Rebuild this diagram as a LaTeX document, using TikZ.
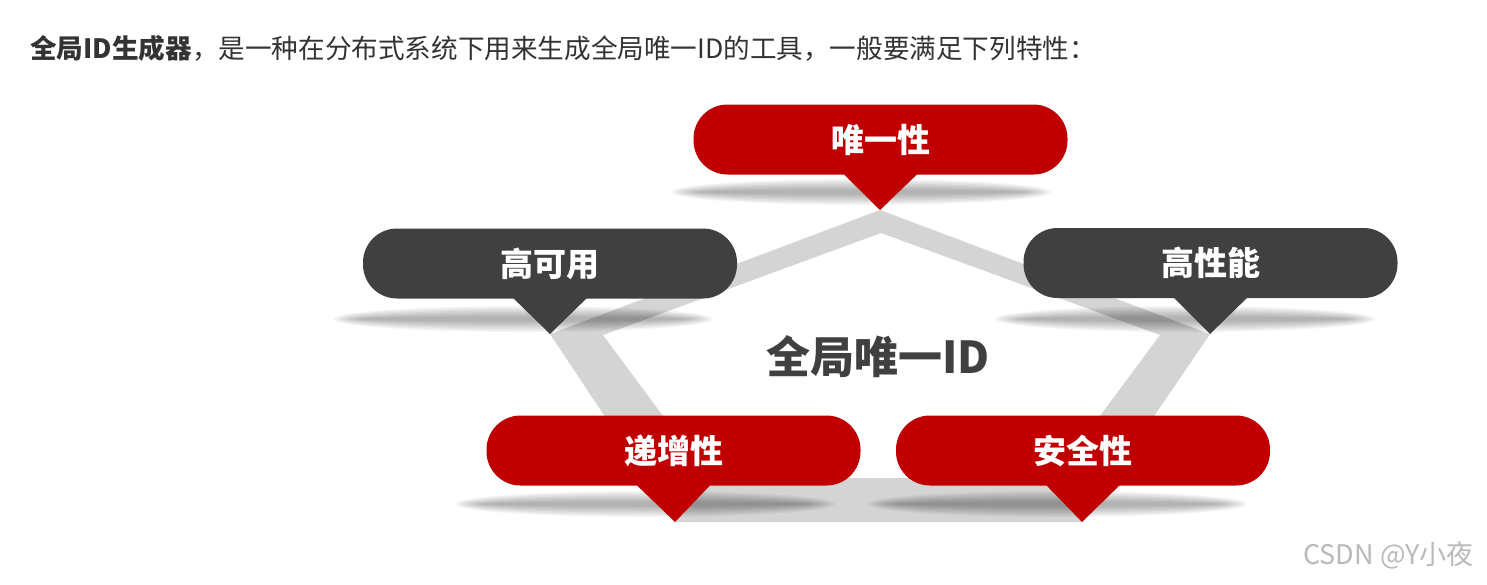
\documentclass[tikz,border=0pt]{standalone}
\usepackage{fontspec}
\setmainfont{Noto Sans CJK SC}
\usetikzlibrary{calc}
\definecolor{IDRed}{RGB}{192,0,0}
\definecolor{IDDark}{RGB}{64,64,64}
\definecolor{IDRing}{RGB}{212,212,212}
\definecolor{IDMark}{RGB}{185,185,185}

\begin{document}
\begin{tikzpicture}[x=0.5pt,y=-0.5pt,
  pill/.style={rounded corners=17pt,minimum width=187pt,minimum height=35pt,inner sep=0pt,text=white,font=\fontsize{16.5}{18}\selectfont\bfseries},
  shadelayer/.style={fill=black,opacity=0.045}]
\useasboundingbox (0,0) rectangle (1487,584);
% heading line
\node[anchor=west,inner sep=0pt,text=black!80,font=\fontsize{13.3}{15}\selectfont] (head) at (30,48) {\textbf{全局ID生成器}，是一种在分布式系统下用来生成全局唯一ID的工具，一般要满足下列特性：};
% ring tips (outer) and inner corners
\coordinate (uniq tip) at (880,210);\coordinate (avail tip) at (550,334);\coordinate (perf tip) at (1210,334);
\coordinate (incr tip) at (675,522);\coordinate (safe tip) at (1082,522);
\coordinate (in t) at (881,233);\coordinate (in l) at (603,335);\coordinate (in r) at (1160,335);
\coordinate (in bl) at (709,478);\coordinate (in br) at (1054,478);
\fill[IDRing,even odd rule] (uniq tip)--(perf tip)--(safe tip)--(incr tip)--(avail tip)--cycle
  (in t)--(in r)--(in br)--(in bl)--(in l)--cycle;
% soft shadows under the callouts
\foreach \sx/\sy in {861/192,523/319,1185/319,645/504,1057/504}{
  \foreach \i in {0,...,7}{\fill[shadelayer] (\sx,\sy) ellipse ({190-4*\i} and {13-1.5*\i});}
}
% callouts
\node[pill,fill=IDRed] (uniq) at (880.5,139.5) {唯一性};
\fill[IDRed] ([xshift=-18.5pt,yshift=0.5pt]uniq.south)--([xshift=18.5pt,yshift=0.5pt]uniq.south)--(uniq tip)--cycle;
\node[pill,fill=IDDark] (avail) at (550,263.5) {高可用};
\fill[IDDark] ([xshift=-18.5pt,yshift=0.5pt]avail.south)--([xshift=18.5pt,yshift=0.5pt]avail.south)--(avail tip)--cycle;
\node[pill,fill=IDDark] (perf) at (1210.5,263) {高性能};
\fill[IDDark] ([xshift=-18.5pt,yshift=0.5pt]perf.south)--([xshift=18.5pt,yshift=0.5pt]perf.south)--(perf tip)--cycle;
\node[pill,fill=IDRed] (incr) at (673.5,450.5) {递增性};
\fill[IDRed] ([xshift=-18.5pt,yshift=0.5pt]incr.south)--([xshift=18.5pt,yshift=0.5pt]incr.south)--(incr tip)--cycle;
\node[pill,fill=IDRed] (safe) at (1083,450.5) {安全性};
\fill[IDRed] ([xshift=-18.5pt,yshift=0.5pt]safe.south)--([xshift=18.5pt,yshift=0.5pt]safe.south)--(safe tip)--cycle;
% centre title and watermark
\node[text=IDDark,font=\fontsize{22}{24}\selectfont\bfseries] (core) at (878,357) {全局唯一ID};
\node[anchor=east,text=IDMark,font=\fontsize{13.5}{15}\selectfont] (mark) at (1481,555) {CSDN @Y小夜};
\end{tikzpicture}
\end{document}
